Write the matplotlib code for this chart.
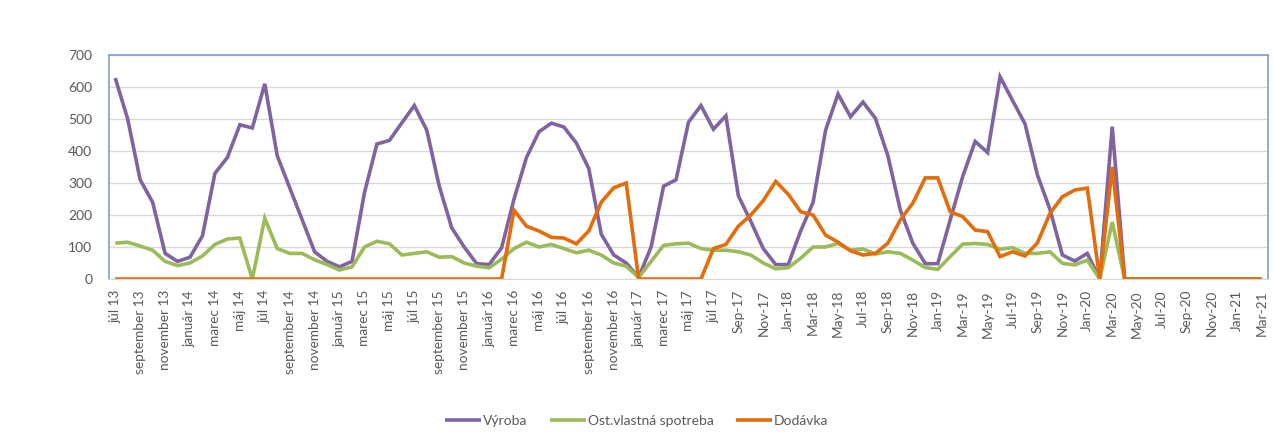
import matplotlib
matplotlib.use("Agg")
import matplotlib.pyplot as plt
import numpy as np

plt.rcParams['font.family'] = ['Lato', 'DejaVu Sans']

months_sk = ["júl 13", "august 13", "september 13", "október 13", "november 13", "december 13",
             "január 14", "február 14", "marec 14", "apríl 14", "máj 14", "jún 14",
             "júl 14", "august 14", "september 14", "október 14", "november 14", "december 14",
             "január 15", "február 15", "marec 15", "apríl 15", "máj 15", "jún 15",
             "júl 15", "august 15", "september 15", "október 15", "november 15", "december 15",
             "január 16", "február 16", "marec 16", "apríl 16", "máj 16", "jún 16",
             "júl 16", "august 16", "september 16", "október 16", "november 16", "december 16",
             "január 17", "február 17", "marec 17", "apríl 17", "máj 17", "jún 17",
             "júl 17", "Aug-17"]
months_en = ["Sep-17", "Oct-17", "Nov-17", "Dec-17",
             "Jan-18", "Feb-18", "Mar-18", "Apr-18", "May-18", "Jun-18", "Jul-18", "Aug-18",
             "Sep-18", "Oct-18", "Nov-18", "Dec-18",
             "Jan-19", "Feb-19", "Mar-19", "Apr-19", "May-19", "Jun-19", "Jul-19", "Aug-19",
             "Sep-19", "Oct-19", "Nov-19", "Dec-19",
             "Jan-20", "Feb-20", "Mar-20", "Apr-20", "May-20", "Jun-20", "Jul-20", "Aug-20",
             "Sep-20", "Oct-20", "Nov-20", "Dec-20",
             "Jan-21", "Feb-21", "Mar-21"]
months = months_sk + months_en

vyroba = [628, 500, 310, 240, 80, 55, 68, 135, 330, 380, 482, 472,
          610, 385, 285, 185, 85, 55, 38, 55, 270, 422, 433, 488,
          542, 465, 290, 160, 100, 48, 45, 97, 250, 380, 460, 487,
          475, 425, 345, 140, 75, 50, 5, 100, 290, 310, 490, 542,
          468, 510, 260, 180, 95, 45, 45, 150, 240, 465, 578, 507,
          553, 502, 385, 215, 112, 48, 48, 185, 320, 430, 395, 632,
          558, 485, 325, 218, 75, 56, 80, 0, 476, 0,
          0, 0, 0, 0, 0, 0, 0, 0, 0, 0, 0]

spotreba = [112, 115, 103, 90, 55, 42, 50, 72, 108, 125, 128, 0,
            190, 95, 80, 80, 60, 45, 28, 38, 100, 118, 110, 75,
            80, 85, 68, 70, 50, 40, 35, 62, 95, 115, 100, 108,
            95, 82, 90, 75, 50, 40, 5, 55, 105, 110, 112, 95,
            90, 90, 85, 75, 50, 32, 35, 65, 100, 100, 111, 90,
            94, 78, 85, 80, 59, 36, 30, 70, 109, 111, 108, 93,
            98, 80, 80, 85, 49, 44, 59, 0, 178, 0,
            0, 0, 0, 0, 0, 0, 0, 0, 0, 0, 0]

dodavka = [0] * 32 + [215, 165, 150, 130, 128, 110, 150, 240, 285, 300,
                      0, 0, 0, 0, 0, 0,
                      95, 108, 165, 200, 245, 305, 265, 210, 200, 137, 115, 88,
                      75, 80, 112, 185, 237, 316, 316, 210, 195, 153, 148, 70,
                      85, 72, 113, 205, 257, 278, 284, 0, 350, 0,
                      0, 0, 0, 0, 0, 0, 0, 0, 0, 0, 0]

series_names = ["Výroba", "Ost.vlastná spotreba", "Dodávka"]
colors = ["#8064A2", "#9BBB59", "#E46C0A"]

W, H = 1273, 441
fig = plt.figure(figsize=(W / 100, H / 100), dpi=100)
ax = fig.add_axes([109 / W, 1 - 279 / H, (1268 - 109) / W, (279 - 55) / H])

x = np.arange(len(months))
for vals, name, c in zip([vyroba, spotreba, dodavka], series_names, colors):
    ax.plot(x, vals, color=c, lw=2.6, label=name, solid_joinstyle='miter', solid_capstyle='butt')

ax.set_xlim(-0.5, len(months) - 0.5)
ax.set_ylim(0, 700)
ax.set_yticks(range(0, 701, 100))
ax.yaxis.grid(True, color="#D9D9D9", lw=1)
ax.set_axisbelow(True)
ax.set_xticks(x[::2])
ax.set_xticklabels(months[::2], rotation=90, fontsize=9.8, color="#595959")
ax.tick_params(axis='y', labelsize=10, colors="#595959", length=0, pad=12)
ax.tick_params(axis='x', length=0, pad=8)
for s in ['left', 'top', 'right']:
    ax.spines[s].set_color("#7F9FCF")
    ax.spines[s].set_linewidth(1.2)
ax.spines['bottom'].set_color("#D9D9D9")

leg = fig.legend(loc='center', bbox_to_anchor=(0.5, 1 - 421 / H), ncol=3, frameon=False,
                 fontsize=10, handlelength=2.6, handletextpad=0.15, columnspacing=1.6)
for t in leg.get_texts():
    t.set_color("#595959")

fig.savefig("out.png", dpi=100, facecolor="white")
